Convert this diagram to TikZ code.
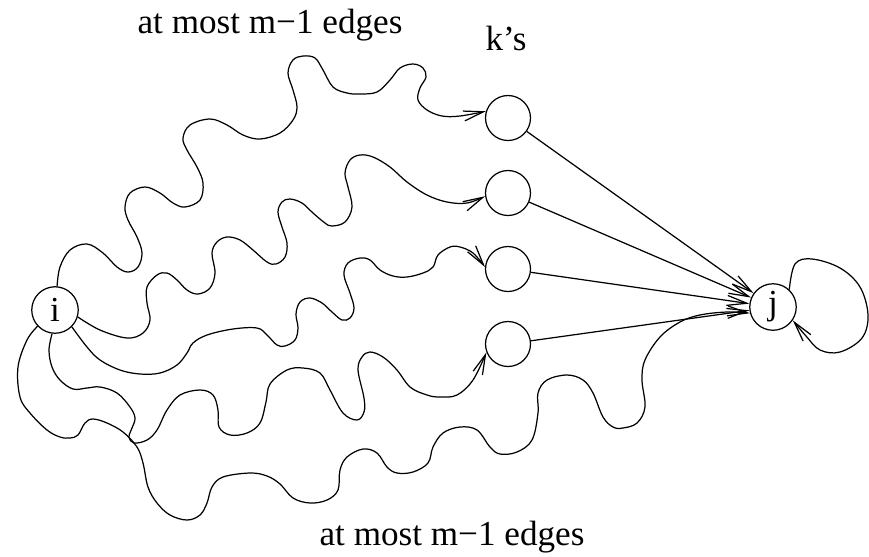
\documentclass[tikz,border=0pt]{standalone}
\usepackage{fontspec}
\setmainfont{Liberation Serif}
\usepackage{tikz}
\usetikzlibrary{arrows.meta}
\tikzset{
  vert/.style={circle, draw, line width=0.7pt, minimum size=#1, inner sep=0pt,
    font=\fontsize{20}{24}\selectfont},
  vert/.default=0.9cm,
  lbl/.style={anchor=base, font=\fontsize{20}{24}\selectfont},
  arr/.style={-{Straight Barb[length=4mm, width=2mm]}, line width=0.7pt},
}

\begin{document}
\begin{tikzpicture}[x=0.02cm, y=-0.02cm]
\useasboundingbox (0,0) rectangle (869,556);

% vertices
\node[vert=0.93cm] (i) at (55,310) {i};
\node[vert=0.93cm] (j) at (773,307) {j};
\node[vert] (k1) at (508,118) {};
\node[vert] (k2) at (508,193) {};
\node[vert] (k3) at (508,269) {};
\node[vert] (k4) at (508,344) {};

% labels
\node[lbl] (top) at (270,33) {at most m−1 edges};
\node[lbl] (ks) at (506,50) {k’s};
\node[lbl] (bot) at (452,545) {at most m−1 edges};

% wiggly walks from i to the k's
\draw[arr] plot[smooth, tension=0.6] coordinates {(i.85) (60,267) (70,250) (87,244)
  (103,253) (117,267) (128,272) (138,267) (142,253) (137,237) (128,220) (125,207)
  (130,193) (145,187) (160,193) (173,203) (185,207) (200,200) (203,183) (197,167)
  (187,150) (183,138) (190,125) (210,119) (227,125) (243,135) (260,139) (280,133)
  (293,120) (297,107) (293,90) (288,73) (293,60) (303,56) (315,58) (323,70)
  (333,87) (347,93) (360,94) (377,92) (390,80) (400,68) (413,64) (423,68)
  (426,77) (420,88) (418,100) (427,110) (442,116) (460,116) (k1.163)};
\draw[arr] plot[smooth, tension=0.6] coordinates {(i.-17) (100,330) (127,338)
  (143,333) (150,320) (147,303) (147,287) (157,275) (167,273) (177,280)
  (187,290) (198,294) (210,288) (215,273) (212,253) (217,242) (227,237)
  (240,240) (253,250) (267,262) (276,264) (285,257) (287,243) (282,227)
  (278,212) (282,202) (290,199) (302,203) (313,213) (325,223) (332,226)
  (345,222) (352,207) (348,187) (345,173) (350,160) (360,155) (373,157)
  (390,167) (407,182) (427,195) (447,202) (467,203) (k2.188)};
\draw[arr] plot[smooth, tension=0.6] coordinates {(i.-45) (87,347) (100,360)
  (120,370) (140,374) (160,373) (177,365) (187,353) (193,343) (207,335)
  (233,329) (257,328) (267,335) (277,345) (285,346) (295,340) (298,328)
  (296,314) (300,302) (310,298) (322,303) (332,312) (342,320) (350,318)
  (354,308) (350,293) (344,275) (348,263) (360,258) (370,260) (380,270)
  (393,276) (407,277) (423,273) (433,267) (438,255) (450,247) (460,247)
  (473,253) (k3.175)};
\draw[arr] plot[smooth, tension=0.6] coordinates {(i.-97) (49,350) (52,367)
  (60,380) (73,389) (87,388) (100,387) (117,393) (130,407) (135,418) (132,428)
  (129,437) (134,443) (147,440) (157,430) (167,410) (180,395) (200,390)
  (213,395) (218,410) (219,427) (230,435) (247,433) (260,423) (266,402)
  (270,384) (287,370) (303,368) (320,373) (330,390) (343,413) (357,420)
  (364,412) (364,398) (358,370) (362,357) (370,352) (383,357) (397,370)
  (410,387) (427,395) (440,397) (457,395) (473,380) (k4.201)};

% long walk from i to j
\draw[arr] plot[smooth, tension=0.6] coordinates {(i.-137) (27,340) (18,367)
  (20,397) (30,413) (47,430) (60,437) (70,438) (78,435) (85,423) (93,419)
  (107,423) (123,432) (137,447) (143,463) (148,487) (157,503) (170,515)
  (187,520) (200,515) (207,503) (212,487) (223,477) (250,473) (267,476)
  (280,484) (293,498) (310,503) (327,500) (338,490) (340,470) (347,457)
  (363,449) (377,453) (387,467) (397,473) (413,472) (428,463) (433,447)
  (443,433) (460,427) (477,430) (490,447) (500,454) (517,452) (532,440)
  (538,413) (538,393) (547,380) (567,375) (583,380) (593,393) (603,417)
  (613,427) (623,428) (637,423) (645,407) (642,380) (645,360) (660,337)
  (680,322) (700,315) (727,312) (j.195)};

% edges k -> j
\draw[arr] (k1) -- (j);
\draw[arr] (k2) -- (j);
\draw[arr] (k3) -- (j);
\draw[arr] (k4) -- (j);

% loop at j
\draw[arr] plot[smooth, tension=0.6] coordinates {(j.47) (795,264) (812,259)
  (840,268) (860,287) (868,315) (862,338) (840,352) (820,350) (806,336)
  (j.-34)};

\end{tikzpicture}
\end{document}
